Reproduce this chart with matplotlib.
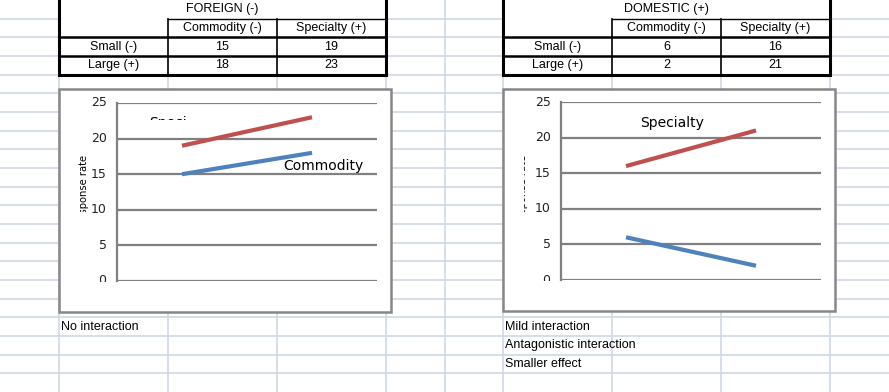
import matplotlib.pyplot as plt
from matplotlib.patches import Rectangle

sizes = ["Small (-)", "Large (+)"]
products = ["Commodity (-)", "Specialty (+)"]
foreign_commodity = [15, 18]
foreign_specialty = [19, 23]
domestic_commodity = [6, 2]
domestic_specialty = [16, 21]
y_ticks = [0, 5, 10, 15, 20, 25]
notes_left = ["No interaction"]
notes_right = ["Mild interaction", "Antagonistic interaction", "Smaller effect"]

W, H = 889, 392
FONT = ["Liberation Sans Narrow", "Liberation Sans", "DejaVu Sans"]
plt.rcParams["font.family"] = FONT

fig = plt.figure(figsize=(W / 100, H / 100), dpi=100)
bg = fig.add_axes([0, 0, 1, 1])
bg.set_xlim(0, W)
bg.set_ylim(H, 0)
bg.axis("off")

# spreadsheet grid
grid_col = "#d0d7e5"
row_h = H / 21
for k in range(1, 21):
    bg.axhline(k * row_h, color=grid_col, lw=1.2, zorder=0)
for x in [59, 168, 277, 386, 445, 503, 612, 721, 830]:
    bg.axvline(x, color=grid_col, lw=1.2, zorder=0)


def clip_rect(x0, y0, x1, y1):
    return Rectangle((x0, y0), x1 - x0, y1 - y0, transform=bg.transData)


def clip_text(t, box):
    t.set_clip_on(True)
    t.set_clip_box(None)
    t.set_clip_path(clip_rect(*box))


def draw_table(x0, title, values):
    xs = [x0, x0 + 109, x0 + 218, x0 + 327]
    ys = [0, row_h, 2 * row_h, 3 * row_h, 4 * row_h]
    bg.add_patch(Rectangle((xs[0], -2), xs[3] - xs[0], ys[4] + 2, fc="white",
                           ec="none", zorder=1))
    # inner lines
    bg.plot([xs[1], xs[3]], [ys[1], ys[1]], color="black", lw=1, zorder=2)
    for x in xs[1:3]:
        bg.plot([x, x], [ys[1], ys[4]], color="black", lw=1.2, zorder=2)
    for y in ys[2:4]:
        bg.plot([xs[0], xs[3]], [y, y], color="black", lw=1.8, zorder=2)
    bg.add_patch(Rectangle((xs[0], -2), xs[3] - xs[0], ys[4] + 2, fc="none",
                           ec="black", lw=2.2, zorder=3))
    fs = 9
    bg.text((xs[0] + xs[3]) / 2, ys[0] + row_h / 2, title, ha="center", va="center", fontsize=fs, zorder=4)
    for j, p in enumerate(products):
        bg.text((xs[j + 1] + xs[j + 2]) / 2, ys[1] + row_h / 2, p, ha="center", va="center", fontsize=fs, zorder=4)
    for i, s in enumerate(sizes):
        yc = ys[2 + i] + row_h / 2
        bg.text((xs[0] + xs[1]) / 2, yc, s, ha="center", va="center", fontsize=fs, zorder=4)
        for j in range(2):
            bg.text((xs[j + 1] + xs[j + 2]) / 2, yc, str(values[j][i]), ha="center", va="center",
                    fontsize=fs, zorder=4)


draw_table(59, "FOREIGN (-)", [foreign_commodity, foreign_specialty])
draw_table(503, "DOMESTIC (+)", [domestic_commodity, domestic_specialty])


def draw_chart(box, plot, commodity, specialty, ylab_x, ylab_clip, labels):
    bx0, by0, bx1, by1 = box
    bg.add_patch(Rectangle((bx0, by0), bx1 - bx0, by1 - by0, fc="white", ec="#878787", lw=1.8, zorder=5))
    px0, py0, px1, py1 = plot
    ax = fig.add_axes([px0 / W, 1 - py1 / H, (px1 - px0) / W, (py1 - py0) / H], zorder=6)
    ax.patch.set_visible(False)
    ax.set_xlim(-0.5, 1.5)
    ax.set_ylim(0, 25)
    for v in y_ticks:
        ax.axhline(v, color="#808080", lw=1.6, zorder=1)
    for s in ["top", "right", "bottom"]:
        ax.spines[s].set_visible(False)
    ax.spines["left"].set_color("#808080")
    ax.spines["left"].set_linewidth(1.6)
    ax.set_xticks([])
    ax.set_yticks([])
    for v in y_ticks:
        t = ax.text(-0.04, v, str(v), transform=ax.get_yaxis_transform(), ha="right", va="center",
                    fontsize=9, family="DejaVu Sans", color="#222222")
        clip_text(t, (bx0, by0, bx1, py1 + 0.5))
    ax.plot([0, 1], specialty, color="#c0504d", lw=3, solid_capstyle="butt", zorder=3)
    ax.plot([0, 1], commodity, color="#4f81bd", lw=3, solid_capstyle="butt", zorder=3)
    # clipped axis title
    t = bg.text(ylab_x, 190, "Response rate", rotation=90, ha="center", va="center", fontsize=7.2,
                family="DejaVu Sans", zorder=7)
    clip_text(t, ylab_clip)
    for txt, x, y, clip in labels:
        t = bg.text(x, y, txt, ha="left", va="center", fontsize=10, family="DejaVu Sans",
                    zorder=7)
        if clip is not None:
            clip_text(t, clip)
    return ax


draw_chart((59, 89, 391, 312), (117, 103, 377, 281), foreign_commodity, foreign_specialty,
           84, (70, 150, 100, 212),
           [("Specialty", 149, 123, (140, 100, 188, 120)), ("Commodity", 283, 166, None)])
draw_chart((503, 89, 835, 311), (561, 102, 821, 280), domestic_commodity, domestic_specialty,
           523, (523.5, 150, 540, 212),
           [("Specialty", 640, 123, None)])

for i, n in enumerate(notes_left):
    bg.text(61, (17 + i) * row_h + row_h / 2, n, ha="left", va="center", fontsize=9, zorder=4)
for i, n in enumerate(notes_right):
    bg.text(505, (17 + i) * row_h + row_h / 2, n, ha="left", va="center", fontsize=9, zorder=4)

fig.savefig("out.png", dpi=100)
